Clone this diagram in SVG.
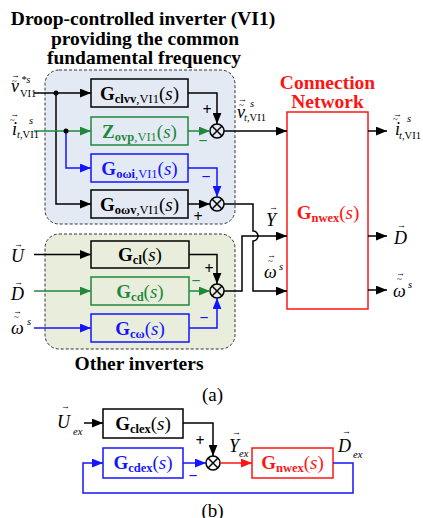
<svg xmlns="http://www.w3.org/2000/svg" width="423" height="518" viewBox="0 0 423 518" font-family="'Liberation Serif', 'DejaVu Serif', serif">
<defs>
<style>
text, tspan{font-family:'Liberation Serif','DejaVu Serif',serif}
text{fill:#000}
.title{font-size:19.5px;font-weight:bold;text-anchor:middle}
.bt{font-size:19px;text-anchor:middle}
.b{font-weight:bold}
.sb{font-size:12.5px;font-weight:bold}
.sr{font-size:12.5px}
.i{font-style:italic}
.lab{font-size:18px;font-style:italic}
.sup{font-size:10.5px;font-style:italic}
.sub{font-size:10.5px}
.acc{font-size:9px}
.pm{font-size:16px;font-weight:bold;text-anchor:middle}
.k{stroke:#000;fill:none;stroke-width:1.5}
.g{stroke:#21883b;fill:none;stroke-width:1.5}
.u{stroke:#1414ff;fill:none;stroke-width:1.5}
.r{stroke:#ff1414;fill:none;stroke-width:1.5}
.gt{fill:#21883b}
.ut{fill:#1414ff}
.rt{fill:#ff1414}
.sum circle{fill:none;stroke:#000;stroke-width:1.5}
.sum path{stroke:#000;stroke-width:1.5}
.region{stroke:#333;stroke-width:1;stroke-dasharray:3 2}
</style>
<marker id="ak" viewBox="0 0 10 8" refX="10" refY="4" markerWidth="11" markerHeight="9" markerUnits="userSpaceOnUse" orient="auto"><path d="M0,0 L10,4 L0,8 z" fill="#000"/></marker>
<marker id="ag" viewBox="0 0 10 8" refX="10" refY="4" markerWidth="11" markerHeight="9" markerUnits="userSpaceOnUse" orient="auto"><path d="M0,0 L10,4 L0,8 z" fill="#21883b"/></marker>
<marker id="au" viewBox="0 0 10 8" refX="10" refY="4" markerWidth="11" markerHeight="9" markerUnits="userSpaceOnUse" orient="auto"><path d="M0,0 L10,4 L0,8 z" fill="#1414ff"/></marker>
<marker id="ar" viewBox="0 0 10 8" refX="10" refY="4" markerWidth="11" markerHeight="9" markerUnits="userSpaceOnUse" orient="auto"><path d="M0,0 L10,4 L0,8 z" fill="#ff1414"/></marker>
</defs>

<g id="title">
<text class="title" x="143" y="25">Droop-controlled inverter (VI1)</text>
<text class="title" x="145" y="45">providing the common</text>
<text class="title" x="144" y="64">fundamental frequency</text>
</g>

<g id="region-vi1"><rect class="region" x="45" y="70" width="190" height="154" rx="14" fill="#e4eaf4"/></g>
<g id="region-other"><rect class="region" x="45" y="234" width="190" height="115" rx="14" fill="#e8eedb"/>
<text class="title" x="139" y="370">Other inverters</text></g>

<g id="Gclvv"><rect class="k" x="91" y="79" width="97" height="28"/>
<text class="bt" x="139.5" y="99.5"><tspan class="b">G</tspan><tspan class="sb" dy="3">clvv</tspan><tspan class="sr">,VI1</tspan><tspan dy="-3">(</tspan><tspan class="i">s</tspan>)</text></g>
<g id="Zovp"><rect class="g" x="91" y="117" width="97" height="28"/>
<text class="bt gt" x="139.5" y="137.5"><tspan class="b gt">Z</tspan><tspan class="sb gt" dy="3">ovp</tspan><tspan class="sr gt">,VI1</tspan><tspan class="gt" dy="-3">(</tspan><tspan class="i gt">s</tspan>)</text></g>
<g id="Gooi"><rect class="u" x="91" y="154" width="97" height="28"/>
<text class="bt ut" x="139.5" y="174.5"><tspan class="b ut">G</tspan><tspan class="sb ut" dy="3">oωi</tspan><tspan class="sr ut">,VI1</tspan><tspan class="ut" dy="-3">(</tspan><tspan class="i ut">s</tspan>)</text></g>
<g id="Goov"><rect class="k" x="91" y="190" width="97" height="28"/>
<text class="bt" x="139.5" y="210.5"><tspan class="b">G</tspan><tspan class="sb" dy="3">oωv</tspan><tspan class="sr">,VI1</tspan><tspan dy="-3">(</tspan><tspan class="i">s</tspan>)</text></g>

<g id="Gcl"><rect class="k" x="91" y="241" width="98" height="27"/>
<text class="bt" x="140" y="261"><tspan class="b">G</tspan><tspan class="sb" dy="3">cl</tspan><tspan dy="-3">(</tspan><tspan class="i">s</tspan>)</text></g>
<g id="Gcd"><rect class="g" x="91" y="277" width="98" height="28"/>
<text class="bt gt" x="140" y="297.5"><tspan class="b gt">G</tspan><tspan class="sb gt" dy="3">cd</tspan><tspan class="gt" dy="-3">(</tspan><tspan class="i gt">s</tspan>)</text></g>
<g id="Gcw"><rect class="u" x="91" y="314" width="98" height="28"/>
<text class="bt ut" x="140" y="334.5"><tspan class="b ut">G</tspan><tspan class="sb ut" dy="3">cω</tspan><tspan class="ut" dy="-3">(</tspan><tspan class="i ut">s</tspan>)</text></g>

<g id="network"><rect class="r" x="287" y="112" width="81" height="197"/>
<text class="title rt" x="327.5" y="89">Connection</text>
<text class="title rt" x="327.5" y="108">Network</text>
<text class="bt rt" x="328" y="219"><tspan class="b rt">G</tspan><tspan class="sb rt" dy="3">nwex</tspan><tspan class="rt" dy="-3">(</tspan><tspan class="i rt">s</tspan>)</text></g>

<g id="sum1" class="sum"><circle cx="217" cy="131" r="7"/><path d="M212,126 L222,136 M212,136 L222,126"/></g>
<g id="sum2" class="sum"><circle cx="217" cy="204" r="7"/><path d="M212,199 L222,209 M212,209 L222,199"/></g>
<g id="sum3" class="sum"><circle cx="217" cy="291" r="7"/><path d="M212,286 L222,296 M212,296 L222,286"/></g>

<g id="connectors">
<path class="k" d="M34,93 H91" marker-end="url(#ak)"/>
<path class="k" d="M56,93 V204 H91" marker-end="url(#ak)"/>
<circle cx="56" cy="93" r="2.5" fill="#000"/>
<path class="g" d="M34,131 H91" marker-end="url(#ag)"/>
<path class="u" d="M66,131 V168 H91" marker-end="url(#au)"/>
<circle cx="66" cy="131" r="2.5" fill="#000"/>
<path class="k" d="M188,93 H217 V124" marker-end="url(#ak)"/>
<path class="g" d="M188,131 H210" marker-end="url(#ag)"/>
<path class="u" d="M188,168 H217 V197" marker-end="url(#au)"/>
<path class="k" d="M188,204 H210" marker-end="url(#ak)"/>
<path class="k" d="M224,131 H287" marker-end="url(#ak)"/>
<path class="k" d="M224,204 H253 V231 A5,5 0 0 1 253,241 V291 H287" marker-end="url(#ak)"/>
<path class="k" d="M224,291 H242 V236 H287" marker-end="url(#ak)"/>
<path class="k" d="M368,131 H387" marker-end="url(#ak)"/>
<path class="k" d="M368,236 H387" marker-end="url(#ak)"/>
<path class="k" d="M368,290 H387" marker-end="url(#ak)"/>
<path class="k" d="M34,254.5 H91" marker-end="url(#ak)"/>
<path class="g" d="M34,291 H91" marker-end="url(#ag)"/>
<path class="u" d="M34,328 H91" marker-end="url(#au)"/>
<path class="k" d="M189,254.5 H217 V284" marker-end="url(#ak)"/>
<path class="g" d="M189,291 H210" marker-end="url(#ag)"/>
<path class="u" d="M189,328 H217 V298" marker-end="url(#au)"/>
</g>

<g id="signs">
<text class="pm" x="207" y="115">+</text>
<text class="pm gt" x="203" y="146">−</text>
<text class="pm ut" x="206" y="182">−</text>
<text class="pm" x="198" y="222">+</text>
<text class="pm" x="209" y="274">+</text>
<text class="pm gt" x="196" y="286">−</text>
<text class="pm ut" x="204" y="323">−</text>
</g>

<g id="labels">
<text class="acc" x="11" y="78">→</text><text class="acc" x="12" y="84">~</text>
<text class="lab" x="11" y="92">v</text><text class="sup" x="21" y="83">*s</text><text class="sub" x="20" y="97">VI1</text>
<text class="acc" x="10" y="117">→</text><text class="acc" x="10" y="123">~</text>
<text class="lab" x="12" y="135">i</text><text class="sup" x="29" y="124">s</text><text class="sub" x="17" y="138"><tspan class="i">t</tspan>,VI1</text>
<text class="acc" x="238" y="102">→</text><text class="acc" x="239" y="108">~</text>
<text class="lab" x="237" y="118">v</text><text class="sup" x="250" y="107">s</text><text class="sub" x="244" y="121"><tspan class="i">t</tspan>,VI1</text>
<text class="acc" x="393" y="117">→</text><text class="acc" x="393" y="122">~</text>
<text class="lab" x="395" y="135">i</text><text class="sup" x="407" y="122">s</text><text class="sub" x="399" y="139"><tspan class="i">t</tspan>,VI1</text>
<text class="acc" x="269" y="210">→</text><text class="lab" x="266" y="226">Y</text>
<text class="acc" x="267" y="258">→</text><text class="acc" x="268" y="264">~</text>
<text class="lab" x="264" y="278">ω</text><text class="sup" x="279" y="270">s</text>
<text class="acc" x="397" y="228">→</text><text class="lab" x="394" y="244">D</text>
<text class="acc" x="396" y="276">→</text><text class="acc" x="397" y="282">~</text>
<text class="lab" x="393" y="297">ω</text><text class="sup" x="408" y="288">s</text>
<text class="acc" x="14" y="247">→</text><text class="lab" x="11" y="262">U</text>
<text class="acc" x="14" y="285">→</text><text class="lab" x="11" y="300">D</text>
<text class="acc" x="13" y="314">→</text><text class="acc" x="14" y="320">~</text>
<text class="lab" x="11" y="334">ω</text><text class="sup" x="27" y="325">s</text>
</g>

<text x="212.5" y="401" style="font-size:19px;text-anchor:middle">(a)</text>

<g id="Gclex"><rect class="k" x="103" y="409" width="80" height="29"/>
<text class="bt" x="143" y="430"><tspan class="b">G</tspan><tspan class="sb" dy="3">clex</tspan><tspan dy="-3">(</tspan><tspan class="i">s</tspan>)</text></g>
<g id="Gcdex"><rect class="u" x="103" y="448" width="80" height="30"/>
<text class="bt ut" x="143" y="469"><tspan class="b ut">G</tspan><tspan class="sb ut" dy="3">cdex</tspan><tspan class="ut" dy="-3">(</tspan><tspan class="i ut">s</tspan>)</text></g>
<g id="Gnwex-b"><rect class="r" x="252" y="448" width="81" height="30"/>
<text class="bt rt" x="292.5" y="469"><tspan class="b rt">G</tspan><tspan class="sb rt" dy="3">nwex</tspan><tspan class="rt" dy="-3">(</tspan><tspan class="i rt">s</tspan>)</text></g>
<g id="sum-b" class="sum"><circle cx="213" cy="463" r="7"/><path d="M208,458 L218,468 M208,468 L218,458"/></g>
<g id="connectors-b">
<path class="k" d="M84,423 H103" marker-end="url(#ak)"/>
<path class="k" d="M183,423 H213 V456" marker-end="url(#ak)"/>
<path class="u" d="M183,463 H206" marker-end="url(#au)"/>
<path class="r" d="M220,463 H252" marker-end="url(#ar)"/>
<path class="u" d="M333,463 H353 V493 H83 V463 H103" marker-end="url(#au)"/>
</g>
<g id="labels-b">
<text class="acc" x="61" y="409">→</text><text class="lab" x="57" y="428">U</text><text class="sub i" x="73" y="435">ex</text>
<text class="pm" x="200" y="446">+</text>
<text class="pm ut" x="193" y="481">−</text>
<text class="acc" x="232" y="435">→</text><text class="lab" x="229" y="452">Y</text><text class="sub i" x="239" y="457">ex</text>
<text class="acc" x="342" y="434">→</text><text class="lab" x="338" y="452">D</text><text class="sub i" x="353" y="458">ex</text>
</g>
<text x="212.5" y="517" style="font-size:19px;text-anchor:middle">(b)</text>
</svg>
